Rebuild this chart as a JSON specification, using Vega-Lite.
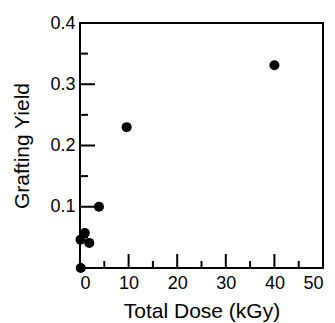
{
  "$schema": "https://vega.github.io/schema/vega-lite/v6.json",
  "width": 243,
  "height": 245,
  "autosize": {"type": "none"},
  "padding": {"left": 80, "top": 23, "right": 12, "bottom": 55},
  "background": "white",
  "datasets": {
    "points": [
      {"dose": 0.15, "yield": 0.0},
      {"dose": 0.1, "yield": 0.046},
      {"dose": 1.0, "yield": 0.057},
      {"dose": 1.9, "yield": 0.041},
      {"dose": 3.9, "yield": 0.1},
      {"dose": 9.6, "yield": 0.23},
      {"dose": 40.0, "yield": 0.331}
    ],
    "xticks": [
      {"dose": 10, "kind": "major"},
      {"dose": 20, "kind": "major"},
      {"dose": 30, "kind": "major"},
      {"dose": 40, "kind": "major"},
      {"dose": 5, "kind": "minor"},
      {"dose": 15, "kind": "minor"},
      {"dose": 25, "kind": "minor"},
      {"dose": 35, "kind": "minor"},
      {"dose": 45, "kind": "minor"}
    ],
    "yticks": [
      {"yield": 0.1, "kind": "major"},
      {"yield": 0.2, "kind": "major"},
      {"yield": 0.3, "kind": "major"},
      {"yield": 0.05, "kind": "minor"},
      {"yield": 0.15, "kind": "minor"},
      {"yield": 0.25, "kind": "minor"},
      {"yield": 0.35, "kind": "minor"}
    ]
  },
  "layer": [
    {
      "data": {"name": "xticks"},
      "transform": [{"filter": "datum.kind === 'major'"}],
      "mark": {"type": "point", "shape": "stroke", "angle": 90, "filled": false, "color": "black", "opacity": 1, "strokeOpacity": 1, "strokeWidth": 2, "size": 196, "yOffset": -7},
      "encoding": {
        "x": {"field": "dose", "type": "quantitative"},
        "y": {"datum": 0, "type": "quantitative"}
      }
    },
    {
      "data": {"name": "xticks"},
      "transform": [{"filter": "datum.kind === 'minor'"}],
      "mark": {"type": "point", "shape": "stroke", "angle": 90, "filled": false, "color": "black", "opacity": 1, "strokeOpacity": 1, "strokeWidth": 2, "size": 49, "yOffset": -3.5},
      "encoding": {
        "x": {"field": "dose", "type": "quantitative"},
        "y": {"datum": 0, "type": "quantitative"}
      }
    },
    {
      "data": {"name": "yticks"},
      "transform": [{"filter": "datum.kind === 'major'"}],
      "mark": {"type": "point", "shape": "stroke", "filled": false, "color": "black", "opacity": 1, "strokeOpacity": 1, "strokeWidth": 2, "size": 225, "xOffset": 7.5},
      "encoding": {
        "y": {"field": "yield", "type": "quantitative"},
        "x": {"datum": 0, "type": "quantitative"}
      }
    },
    {
      "data": {"name": "yticks"},
      "transform": [{"filter": "datum.kind === 'minor'"}],
      "mark": {"type": "point", "shape": "stroke", "filled": false, "color": "black", "opacity": 1, "strokeOpacity": 1, "strokeWidth": 2, "size": 64, "xOffset": 4},
      "encoding": {
        "y": {"field": "yield", "type": "quantitative"},
        "x": {"datum": 0, "type": "quantitative"}
      }
    },
    {
      "data": {"name": "points"},
      "mark": {"type": "circle", "color": "black", "opacity": 1, "size": 100},
      "encoding": {
        "x": {"field": "dose", "type": "quantitative"},
        "y": {"field": "yield", "type": "quantitative"}
      }
    }
  ],
  "encoding": {
    "x": {
      "type": "quantitative",
      "scale": {"domain": [0, 50], "nice": false, "zero": true},
      "axis": {
        "orient": "bottom",
        "title": "Total Dose (kGy)",
        "domain": false,
        "ticks": false,
        "values": [0, 10, 20, 30, 40, 50],
        "labelPadding": 6,
        "titlePadding": 8
      }
    },
    "y": {
      "type": "quantitative",
      "scale": {"domain": [0, 0.4], "nice": false, "zero": true},
      "axis": {
        "orient": "left",
        "title": "Grafting Yield",
        "domain": false,
        "ticks": false,
        "values": [0.1, 0.2, 0.3, 0.4],
        "format": ".1f",
        "labelPadding": 5,
        "titlePadding": 17
      }
    }
  },
  "config": {
    "view": {"stroke": "black", "strokeWidth": 2},
    "axis": {
      "grid": false,
      "labelColor": "black",
      "titleColor": "black",
      "labelFont": "Liberation Sans",
      "titleFont": "Liberation Sans",
      "labelFontSize": 18,
      "titleFontSize": 21,
      "titleFontWeight": "normal"
    }
  }
}
